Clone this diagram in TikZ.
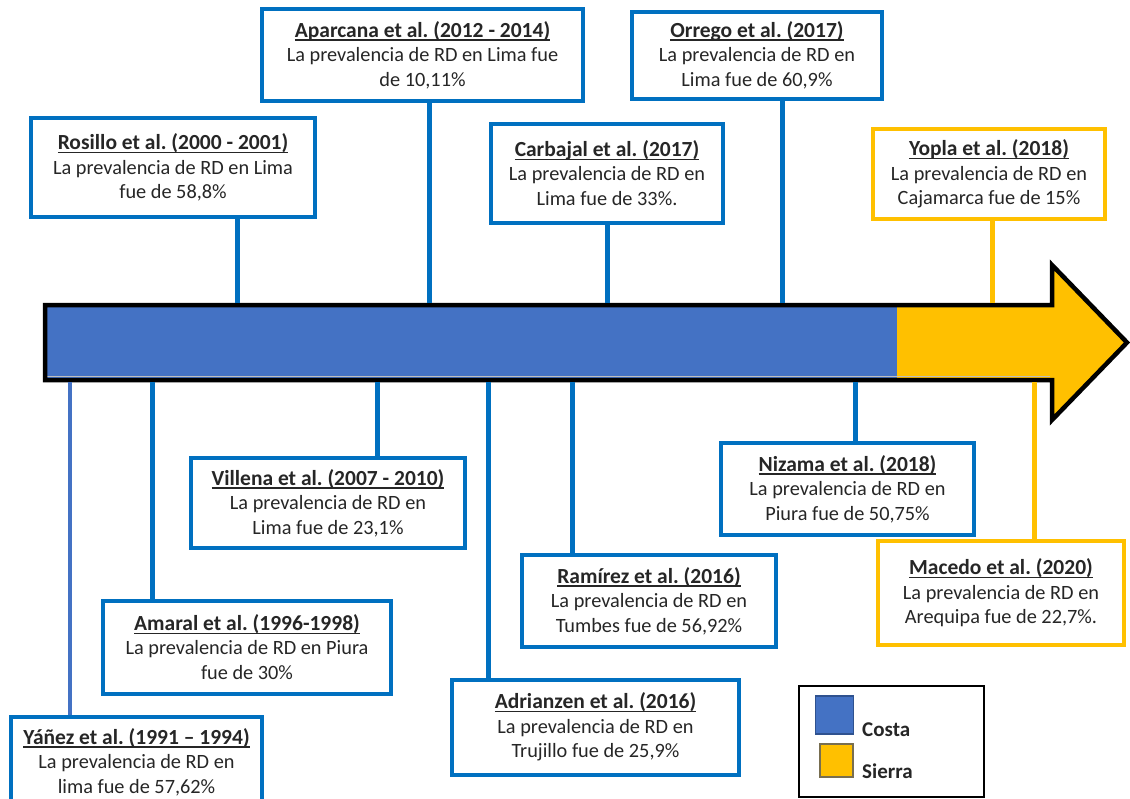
\documentclass[tikz,border=0pt]{standalone}
\usepackage{fontspec}
\setmainfont{Carlito}
\frenchspacing
\definecolor{boxblue}{RGB}{0,112,192}
\definecolor{arrblue}{RGB}{68,114,196}
\definecolor{gold}{RGB}{255,192,0}
\definecolor{txt}{RGB}{38,38,38}
\definecolor{sqedge}{RGB}{47,82,143}
\definecolor{sqedgey}{RGB}{120,110,80}
\newsavebox\titlebox
\newcommand{\boxtitle}[1]{\sbox\titlebox{\fontsize{21.5}{24.5}\selectfont\bfseries #1}\rlap{\rule[-3.4pt]{\wd\titlebox}{1.2pt}}\usebox\titlebox}
\tikzset{
  card/.style={draw=boxblue, line width=4pt, fill=white, align=center, inner sep=0pt,
    font=\fontsize{20.3}{24.5}\selectfont, text=txt},
  ycard/.style={card, draw=gold},
  conn/.style={draw=boxblue, line width=5pt},
  yconn/.style={conn, draw=gold},
  lconn/.style={draw=arrblue, line width=4pt},
  legsq/.style={minimum width=38pt, minimum height=38pt, inner sep=0pt},
  legtext/.style={anchor=west, font=\fontsize{21}{24}\selectfont\bfseries, text=txt, inner sep=0pt},
}
\begin{document}
\begin{tikzpicture}[x=1pt,y=-1pt]
\useasboundingbox (0,0) rectangle (1130,798);
\clip (0,0) rectangle (1130,798);
\fill[white] (0,0) rectangle (1130,798);

% anchor points on the arrow
\coordinate (tRos) at (237,303);
\coordinate (tApa) at (429,303);
\coordinate (tCar) at (607,303);
\coordinate (tOrr) at (782,303);
\coordinate (tYop) at (992,303);
\coordinate (bYan) at (70,382);
\coordinate (bAma) at (152,382);
\coordinate (bVil) at (377,382);
\coordinate (bAdr) at (488,382);
\coordinate (bRam) at (572,382);
\coordinate (bNiz) at (855,382);
\coordinate (bMac) at (1034,382);

% timeline arrow
\fill[arrblue] (45,305) rectangle (897,380);
\fill[gold] (897,305) -- (1052,305) -- (1052,265) -- (1127,342.5) -- (1052,420) -- (1052,380) -- (897,380) -- cycle;
\draw[black!25, line width=1.2pt] (47,376.3) -- (1050,376.3);
\draw[black, line width=4.5pt, line join=miter]
  (45,305) -- (1052,305) -- (1052,265) -- (1127,342.5) -- (1052,420) -- (1052,380) -- (45,380) -- cycle;

% top boxes
\node[card, minimum width=321, minimum height=92] (apa) at (422.5,55)
  {\boxtitle{Aparcana et al. (2012 - 2014)}\\La prevalencia de RD en Lima fue\\de 10,11\%};
\node[card, minimum width=250, minimum height=87] (orr) at (757,55)
  {\boxtitle{Orrego et al. (2017)}\\La prevalencia de RD en\\Lima fue de 60,9\%};
\node[card, minimum width=284, minimum height=99] (ros) at (173,167.5)
  {\boxtitle{Rosillo et al. (2000 - 2001)}\\La prevalencia de RD en Lima\\fue de 58,8\%};
\node[card, minimum width=232, minimum height=99] (car) at (607,173)
  {\boxtitle{Carbajal et al. (2017)}\\La prevalencia de RD en\\Lima fue de 33\%.};
\node[ycard, minimum width=232, minimum height=90] (yop) at (989,174)
  {\boxtitle{Yopla et al. (2018)}\\La prevalencia de RD en\\Cajamarca fue de 15\%};

% bottom boxes
\node[card, minimum width=251, minimum height=90] (yan) at (136.5,762)
  {\boxtitle{Yáñez et al. (1991 – 1994)}\\La prevalencia de RD en\\lima fue de 57,62\%};
\node[card, minimum width=288, minimum height=93] (ama) at (247,647)
  {\boxtitle{Amaral et al. (1996-1998)}\\La prevalencia de RD en Piura\\fue de 30\%};
\node[card, minimum width=274, minimum height=90] (vil) at (328,503)
  {\boxtitle{Villena et al. (2007 - 2010)}\\La prevalencia de RD en\\Lima fue de 23,1\%};
\node[card, minimum width=287, minimum height=95] (adr) at (595.5,727)
  {\boxtitle{Adrianzen et al. (2016)}\\La prevalencia de RD en\\Trujillo fue de 25,9\%};
\node[card, minimum width=254, minimum height=92] (ram) at (649,601)
  {\boxtitle{Ramírez et al. (2016)}\\La prevalencia de RD en\\Tumbes fue de 56,92\%};
\node[card, minimum width=253, minimum height=92] (niz) at (847.5,489)
  {\boxtitle{Nizama et al. (2018)}\\La prevalencia de RD en\\Piura fue de 50,75\%};
\node[ycard, minimum width=246, minimum height=104] (mac) at (1001,593)
  {\boxtitle{Macedo et al. (2020)}\\La prevalencia de RD en\\Arequipa fue de 22,7\%.};

% connectors
\draw[conn] (tRos) -- (tRos |- ros.south);
\draw[conn] (tApa) -- (tApa |- apa.south);
\draw[conn] (tCar) -- (tCar |- car.south);
\draw[conn] (tOrr) -- (tOrr |- orr.south);
\draw[yconn] (tYop) -- (tYop |- yop.south);
\draw[lconn] (bYan) -- (bYan |- yan.north);
\draw[conn] (bAma) -- (bAma |- ama.north);
\draw[conn] (bVil) -- (bVil |- vil.north);
\draw[conn] (bAdr) -- (bAdr |- adr.north);
\draw[conn] (bRam) -- (bRam |- ram.north);
\draw[conn] (bNiz) -- (bNiz |- niz.north);
\draw[yconn] (bMac) -- (bMac |- mac.north);

% legend
\node[draw=black, line width=1.5pt, fill=white, minimum width=185, minimum height=111, inner sep=0pt] (leg) at (891.5,741.5) {};
\node[legsq, fill=arrblue, draw=sqedge, line width=1.2pt] (sqc) at (834.5,715) {};
\node[legsq, fill=gold, draw=sqedgey, line width=1.8pt, minimum width=33, minimum height=33] (sqs) at (836.5,760.5) {};
\node[legtext] (lcos) at (862,730) {Costa};
\node[legtext] (lsie) at (862,771) {Sierra};
\end{tikzpicture}
\end{document}
